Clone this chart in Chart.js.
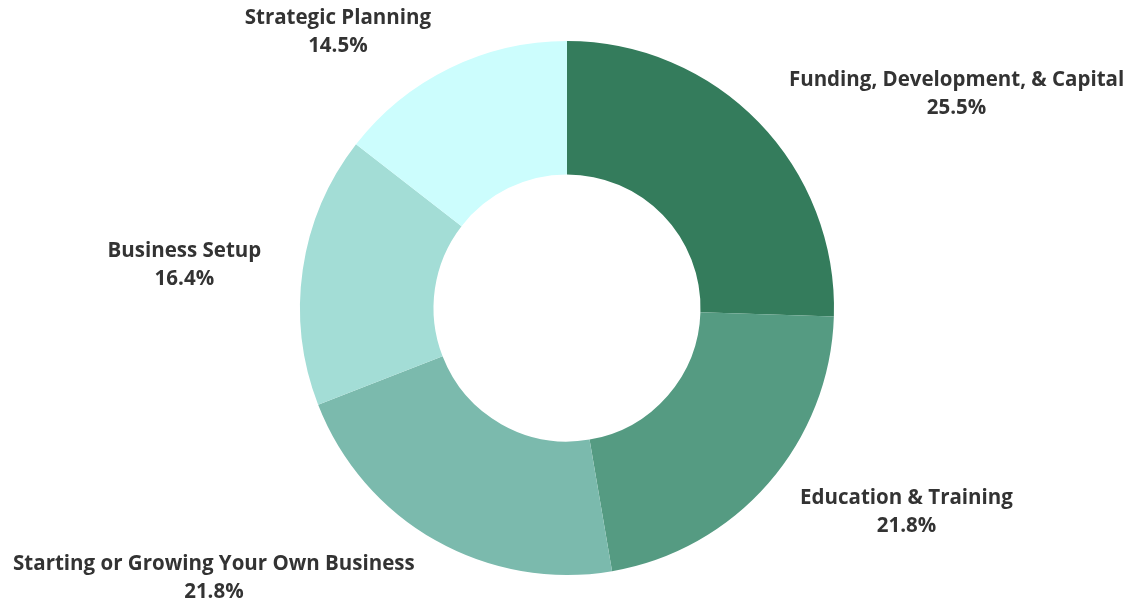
<!DOCTYPE html>
<html lang="en">
<head>
    <meta charset="UTF-8">
    <title>Doughnut</title>
    <script src="https://cdn.jsdelivr.net/npm/chart.js"></script>
    <style>
        html, body { margin: 0; padding: 0; background: #fff; }
        #wrap { width: 1130px; height: 603px; }
    </style>
</head>
<body>
    <div id="wrap"><canvas id="donut"></canvas></div>

    <script>
        // categories and values (percent)
        var categories = ['Funding, Development, & Capital', 'Education & Training', 'Starting or Growing Your Own Business', 'Business Setup', 'Strategic Planning'];
        var values = [25.5, 21.8, 21.8, 16.4, 14.5];
        var colors = ['#347c5c', '#559b82', '#7bbaad', '#a3ddd6', '#ccfdfd'];

        // labels outside the ring: name on top, percent below
        var outsideLabels = {
            id: 'outsideLabels',
            afterDatasetsDraw: function (chart) {
                var ctx = chart.ctx;
                var arcs = chart.getDatasetMeta(0).data;
                ctx.save();
                ctx.font = 'bold 20.5px "Open Sans"';
                ctx.fillStyle = '#333333';
                ctx.textAlign = 'center';
                ctx.textBaseline = 'middle';
                arcs.forEach(function (arc, i) {
                    var p = arc.getProps(['x', 'y', 'startAngle', 'endAngle', 'outerRadius'], true);
                    var mid = (p.startAngle + p.endAngle) / 2;
                    var r = p.outerRadius + 42;
                    var px = p.x + Math.cos(mid) * r;
                    var py = p.y + Math.sin(mid) * r + 1.5;
                    var line1 = categories[i];
                    var line2 = values[i].toFixed(1) + '%';
                    var w = Math.max(ctx.measureText(line1).width, ctx.measureText(line2).width);
                    var cx = Math.cos(mid) >= 0 ? px + w / 2 : px - w / 2;
                    ctx.fillText(line1, cx, py - 14);
                    ctx.fillText(line2, cx, py + 14);
                });
                ctx.restore();
            }
        };

        new Chart(document.getElementById('donut'), {
            type: 'doughnut',
            data: {
                labels: categories,
                datasets: [{
                    data: values,
                    backgroundColor: colors,
                    borderWidth: 0
                }]
            },
            options: {
                responsive: true,
                maintainAspectRatio: false,
                animation: false,
                cutout: '50%',
                layout: { padding: { top: 41, bottom: 28, left: 4, right: 0 } },
                plugins: {
                    legend: { display: false },
                    tooltip: { enabled: false }
                }
            },
            plugins: [outsideLabels]
        });
    </script>
</body>
</html>
